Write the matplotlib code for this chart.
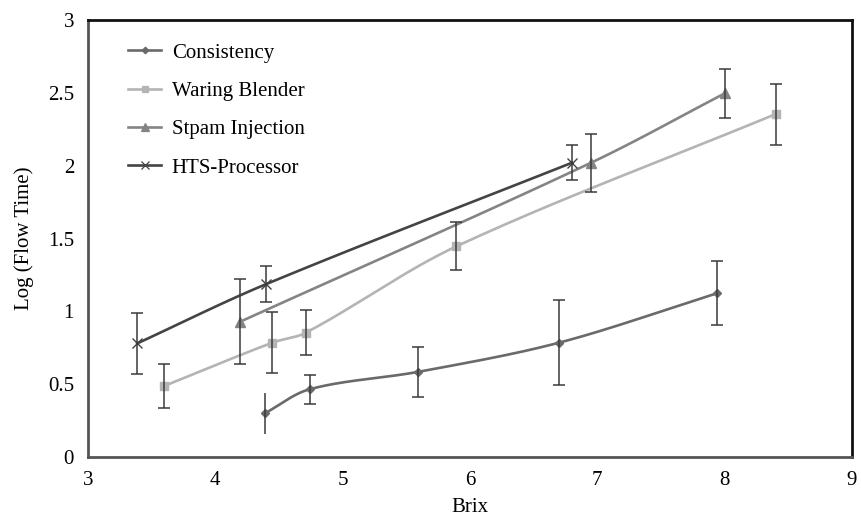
import numpy as np
import matplotlib
matplotlib.use("Agg")
import matplotlib.pyplot as plt
from matplotlib.lines import Line2D

plt.rcParams['font.family'] = ['Liberation Serif', 'DejaVu Serif']

# data
cons_x = [4.39, 4.74, 5.595, 6.70, 7.94]
cons_y = [0.30, 0.465, 0.585, 0.785, 1.124]
cons_err = [0.14, 0.10, 0.17, 0.29, 0.22]

waring_x = [3.597, 4.448, 4.71, 5.893, 8.40]
waring_y = [0.487, 0.785, 0.853, 1.446, 2.354]
waring_err = [0.15, 0.21, 0.155, 0.165, 0.21]

stpam_x = [4.196, 6.95, 8.00]
stpam_y = [0.929, 2.02, 2.496]
stpam_err = [0.29, 0.20, 0.17]

hts_x = [3.387, 4.40, 6.80]
hts_y = [0.78, 1.187, 2.02]
hts_err = [0.21, 0.125, 0.12]

xticks = [3, 4, 5, 6, 7, 8, 9]
yticks = [0, 0.5, 1, 1.5, 2, 2.5, 3]
yticklabels = ["0", "0.5", "1", "1.5", "2", "2.5", "3"]


def smooth(xs, ys, n=40):
    # bezier smoothing, tangent along neighbours, handle length ~ 1/3 of segment
    k = 145.7 / 127.3
    p = np.column_stack([xs, np.array(ys) * k])
    m = len(p)
    tang = []
    for i in range(m):
        d = p[min(i + 1, m - 1)] - p[max(i - 1, 0)]
        tang.append(d / np.linalg.norm(d))
    out = []
    for i in range(m - 1):
        p1, p2 = p[i], p[i + 1]
        L = np.linalg.norm(p2 - p1)
        c1 = p1 + tang[i] * L * 0.33
        c2 = p2 - tang[i + 1] * L * 0.33
        t = np.linspace(0, 1, n)[:, None]
        seg = ((1 - t) ** 3) * p1 + 3 * ((1 - t) ** 2) * t * c1 + 3 * (1 - t) * t ** 2 * c2 + t ** 3 * p2
        out.append(seg)
    out = np.vstack(out)
    return out[:, 0], out[:, 1] / k


fig = plt.figure(figsize=(8.62, 5.16), dpi=100)
ax = fig.add_axes([0.102, 0.1143, 0.8864, 0.8469])

series = [
    ("Consistency", cons_x, cons_y, cons_err, "#6a6a6a", "D", 4.5),
    ("Waring Blender", waring_x, waring_y, waring_err, "#b4b4b4", "s", 6),
    ("Stpam Injection", stpam_x, stpam_y, stpam_err, "#848484", "^", 7),
    ("HTS-Processor", hts_x, hts_y, hts_err, "#444444", "x", 7.5),
]

handles = []
for name, xs, ys, es, col, mk, ms in series:
    sx, sy = smooth(xs, ys)
    ax.plot(sx, sy, color=col, lw=1.9, zorder=2)
    ax.plot(xs, ys, ls="none", marker=mk, color=col, ms=ms, mew=1.0, zorder=3)
    handles.append(Line2D([], [], color=col, lw=1.9, marker=mk, ms=ms * 0.75, mew=0.9))

# error bars (first consistency bar has no caps)
for name, xs, ys, es, col, mk, ms in series:
    if name == "Consistency":
        ax.errorbar(xs[:1], ys[:1], yerr=es[:1], fmt="none", ecolor="#3a3a3a",
                    elinewidth=1.1, capsize=0, zorder=4)
        ax.errorbar(xs[1:], ys[1:], yerr=es[1:], fmt="none", ecolor="#3a3a3a",
                    elinewidth=1.1, capsize=4.5, capthick=1.1, zorder=4)
    else:
        ax.errorbar(xs, ys, yerr=es, fmt="none", ecolor="#3a3a3a",
                    elinewidth=1.1, capsize=4.5, capthick=1.1, zorder=4)

ax.set_xlim(3, 9)
ax.set_ylim(0, 3)
ax.set_xticks(xticks)
ax.set_yticks(yticks)
ax.set_yticklabels(yticklabels)
ax.tick_params(length=0, labelsize=15, pad=10)
for s in ["left", "bottom"]:
    ax.spines[s].set_color("#555555")
    ax.spines[s].set_linewidth(2)
for s in ["top", "right"]:
    ax.spines[s].set_color("#111111")
    ax.spines[s].set_linewidth(2)

ax.set_xlabel("Brix", fontsize=15, labelpad=6)
ax.set_ylabel("Log (Flow Time)", fontsize=15, labelpad=10)

leg = ax.legend(handles, [s[0] for s in series], loc="upper left", frameon=False,
                fontsize=15, handlelength=1.6, labelspacing=0.9,
                bbox_to_anchor=(0.028, 0.99), handletextpad=0.5)

fig.savefig("out.png", dpi=100)
